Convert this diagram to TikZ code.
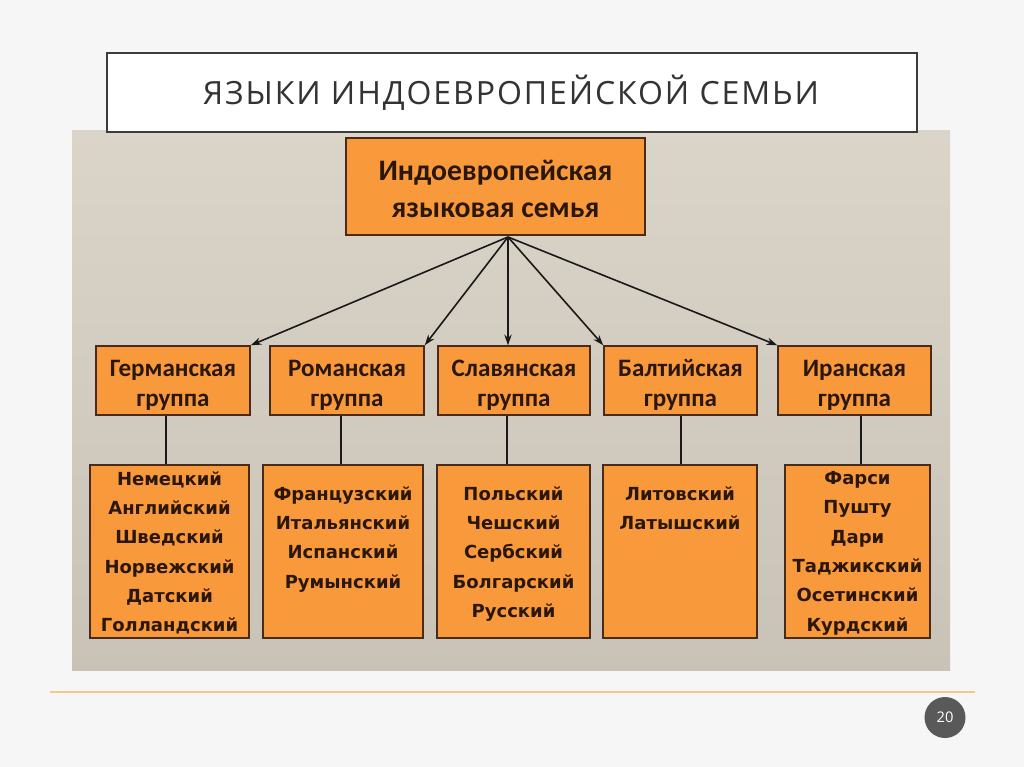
\documentclass[tikz,border=0pt]{standalone}
\usepackage{fontspec}
\setmainfont{Open Sans}
\newfontfamily\titlefont[LetterSpace=6]{Open Sans}
\newfontfamily\boxfont{Carlito}
\newfontfamily\langfont{DejaVu Sans}
\usetikzlibrary{arrows.meta}
\definecolor{slidebg}{HTML}{F6F6F6}
\definecolor{titleline}{HTML}{3C3C3C}
\definecolor{titletext}{HTML}{333333}
\definecolor{picTop}{HTML}{DAD5C8}
\definecolor{picBot}{HTML}{C8C3B6}
\definecolor{boxfill}{HTML}{F89A3C}
\definecolor{boxline}{HTML}{4A2A18}
\definecolor{boxtext}{HTML}{2B1709}
\definecolor{rule}{HTML}{F0CC86}
\definecolor{numfill}{HTML}{595959}
\tikzset{
  obox/.style={draw=boxline, line width=1.1pt, fill=boxfill, inner sep=0pt},
  toptext/.style={text=boxtext, align=center, font=\boxfont\bfseries\fontsize{22.3}{27.75}\selectfont},
  grptext/.style={text=boxtext, align=center, font=\boxfont\bfseries\fontsize{18.8}{22.5}\selectfont},
  langtext/.style={text=boxtext, align=center, inner sep=0pt, font=\langfont\bfseries\fontsize{13.5}{22}\selectfont},
  arr/.style={draw=black!90, line width=1.2pt, -{Stealth[length=8pt,width=5.5pt]}},
  conn/.style={draw=black!90, line width=0.9pt}
}
\begin{document}
\begin{tikzpicture}[x=0.75pt,y=-0.75pt]
\useasboundingbox (0,0) rectangle (1024,767);
\fill[slidebg] (0,0) rectangle (1024,767);
% picture background
\shade[top color=picTop, bottom color=picBot] (72,130) rectangle (950,670);
% title
\node[draw=titleline, line width=1.6pt, fill=white, minimum width=810*0.75pt, minimum height=79*0.75pt, inner sep=0pt] (title) at (512,92.5) {};
\node[text=titletext, font=\titlefont\fontsize{24}{28}\selectfont] (titletxt) at (511,93) {ЯЗЫКИ ИНДОЕВРОПЕЙСКОЙ СЕМЬИ};
% top box
\node[obox, minimum width=299*0.75pt, minimum height=97*0.75pt] (top) at (495.5,186.5) {};
\node[toptext] (toptxt) at (495.5,188.5) {Индоевропейская\\языковая семья};
\coordinate (src) at (508,237);
% group boxes
\foreach \n/\cx/\w/\t in {g1/173/154/Германская, g2/347/154/Романская, g3/514/152/Славянская, g4/680.5/153/Балтийская, g5/854.5/153/Иранская}{
  \node[obox, minimum width=\w*0.75pt, minimum height=69*0.75pt] (\n) at (\cx,380.5) {};
  \node[grptext] (\n txt) at (\cx,385) {\t\\группа};
}
% language boxes
\node[obox, minimum width=159*0.75pt, minimum height=173*0.75pt] (l1) at (169.5,551.5) {};
\node[obox, minimum width=160*0.75pt, minimum height=173*0.75pt] (l2) at (343,551.5) {};
\node[obox, minimum width=153*0.75pt, minimum height=173*0.75pt] (l3) at (513.5,551.5) {};
\node[obox, minimum width=154*0.75pt, minimum height=173*0.75pt] (l4) at (680,551.5) {};
\node[obox, minimum width=145*0.75pt, minimum height=173*0.75pt] (l5) at (857.5,551.5) {};
\node[langtext, anchor=north] (t1) at (169.5,471) {Немецкий\\Английский\\Шведский\\Норвежский\\Датский\\Голландский};
\node[langtext, anchor=north] (t2) at (343,486) {Французский\\Итальянский\\Испанский\\Румынский};
\node[langtext, anchor=north] (t3) at (513.5,486) {Польский\\Чешский\\Сербский\\Болгарский\\Русский};
\node[langtext, anchor=north] (t4) at (680,486) {Литовский\\Латышский};
\node[langtext, anchor=north] (t5) at (857.5,471) {Фарси\\Пушту\\Дари\\Таджикский\\Осетинский\\Курдский};
% arrows
\draw[arr] (src) -- (g1.north east);
\draw[arr] (src) -- (g2.north east);
\draw[arr] (src) -- (src |- g3.north);
\draw[arr] (src) -- (g4.north west);
\draw[arr] (src) -- (g5.north west);
% vertical connectors
\coordinate (c1) at (166,0);
\coordinate (c2) at (341,0);
\coordinate (c3) at (507,0);
\coordinate (c4) at (681,0);
\coordinate (c5) at (861,0);
\draw[conn] (g1.south -| c1) -- (l1.north -| c1);
\draw[conn] (g2.south -| c2) -- (l2.north -| c2);
\draw[conn] (g3.south -| c3) -- (l3.north -| c3);
\draw[conn] (g4.south -| c4) -- (l4.north -| c4);
\draw[conn] (g5.south -| c5) -- (l5.north -| c5);
% footer rule and page number
\coordinate (ruleA) at (50,692);
\coordinate (ruleB) at (975,692);
\draw[rule, line width=1.5pt] (ruleA) -- (ruleB);
\node[circle, fill=numfill, minimum size=41*0.75pt, inner sep=0pt, text=white, font=\fontsize{11}{13}\selectfont] (page) at (945,717.5) {20};
\end{tikzpicture}
\end{document}
